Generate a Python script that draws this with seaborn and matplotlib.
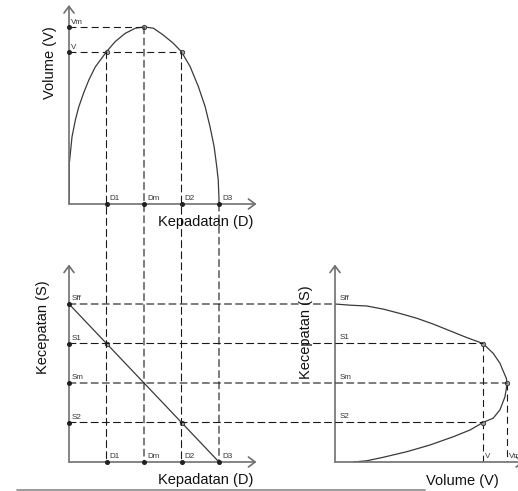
import matplotlib
matplotlib.use("Agg")
import matplotlib.pyplot as plt
from matplotlib.patches import ConnectionPatch
from matplotlib.lines import Line2D
import pandas as pd
import seaborn as sns

sns.set_style("white")
plt.rcParams["font.family"] = ["Liberation Sans", "DejaVu Sans"]
plt.rcParams["lines.scale_dashes"] = False

# ---- tick values and labels ----
density_ticks = [1, 2, 3, 4]
density_labels = ["D1", "Dm", "D2", "D3"]
volume_ticks = [86, 100]
volume_labels = ["V", "Vm"]
speed_ticks = [4, 3, 2, 1]
speed_labels = ["Sff", "S1", "Sm", "S2"]

# volume reached at each density tick (D1, Dm, D2, D3)
volume_at_density = [86, 100, 86, 0]
# volume reached at each speed tick (Sff, S1, Sm, S2)
volume_at_speed = [0, 86, 100, 86]

# ---- volume vs density curve ----
vd_density = [0, 0.01, 0.01, 0.08, 0.17, 0.26, 0.39, 0.53, 0.70, 1.0, 1.23, 1.50,
              1.77, 2.0, 2.25, 2.51, 2.78, 3.0, 3.23, 3.45, 3.63, 3.76, 3.87,
              3.94, 3.98, 4.0, 4.0]
vd_volume = [0, 6.2, 23.2, 37.9, 47.5, 54.8, 62.7, 70.1, 77.4, 86, 91.7, 96.4,
             99.3, 100, 99.3, 95.5, 90.8, 86, 77.6, 66.3, 55.0, 43.7, 32.4,
             21.1, 13.6, 2.3, 0]

# ---- speed vs density line ----
sd_density = [0, 4]
sd_speed = [4, 0]

# ---- speed vs volume curve ----
sv_volume = [0, 8.7, 18.4, 28.1, 37.8, 47.5, 57.2, 66.9, 76.6, 86, 92.0, 95.9,
             98.3, 99.6, 100, 99.6, 98.8, 95.9, 92.0, 86, 78.5, 68.8, 55.2, 41.7,
             28.1, 18.4, 10.6]
sv_speed = [4, 3.97, 3.95, 3.87, 3.76, 3.64, 3.49, 3.32, 3.15, 3.0, 2.75, 2.5,
            2.25, 2.12, 2.0, 1.85, 1.65, 1.32, 1.11, 1.0, 0.81, 0.64, 0.43, 0.26,
            0.12, 0.03, 0]

W, H = 518, 491
fig = plt.figure(figsize=(W / 100, H / 100), dpi=100)


def box(x0, y0, w, h):
    """Axes rectangle from a pixel origin (lower-left corner) and size."""
    return [x0 / W, 1 - y0 / H, w / W, h / H]


axis_col = "#6f6f6f"
curve_col = "#3a3a3a"
dash_col = "#1a1a1a"
dash = (0, (5.0, 3.0))
dash_lw = 0.8
label_fs = 10.5
tick_fs = 5.8

ax_vd = fig.add_axes(box(69, 204, 187.5, 199))
ax_sd = fig.add_axes(box(69, 462, 187.5, 197.5))
ax_sv = fig.add_axes(box(335, 462, 189.2, 197.5))

ax_vd.set_xlim(0, 5)
ax_vd.set_ylim(0, 112.4)
ax_sd.set_xlim(0, 5)
ax_sd.set_ylim(0, 5)
ax_sv.set_xlim(0, 110)
ax_sv.set_ylim(0, 5)

for ax in (ax_vd, ax_sd, ax_sv):
    ax.axis("off")
    for end in ((1, 0), (0, 1)):
        ax.annotate("", xy=end, xytext=(0, 0), xycoords="axes fraction",
                    arrowprops=dict(arrowstyle="->,head_length=0.4,head_width=0.3",
                                    mutation_scale=12, lw=1.2, color=axis_col,
                                    shrinkA=0, shrinkB=0), zorder=3)

# ---- curves ----
vd = pd.DataFrame({"D": vd_density, "V": vd_volume})
sns.lineplot(data=vd, x="D", y="V", sort=False, estimator=None,
             color=curve_col, lw=0.9, ax=ax_vd)
sd = pd.DataFrame({"D": sd_density, "S": sd_speed})
sns.lineplot(data=sd, x="D", y="S", sort=False, estimator=None,
             color=curve_col, lw=0.9, ax=ax_sd)
sv = pd.DataFrame({"V": sv_volume, "S": sv_speed})
sns.lineplot(data=sv, x="V", y="S", sort=False, estimator=None,
             color=curve_col, lw=0.9, ax=ax_sv)
for ax in (ax_vd, ax_sd, ax_sv):
    ax.set_xlabel("")
    ax.set_ylabel("")

# ---- guide lines ----
for v in volume_ticks:
    reach = max(dd for dd, vv in zip(density_ticks, volume_at_density) if vv == v)
    ax_vd.plot([0, reach], [v, v], ls=dash, lw=dash_lw, color=dash_col)

for d, v in zip(density_ticks, volume_at_density):
    fig.add_artist(ConnectionPatch(xyA=(d, v), coordsA=ax_vd.transData,
                                   xyB=(d, 0), coordsB=ax_sd.transData,
                                   linestyle=dash, lw=dash_lw, color=dash_col))

for s, v in zip(speed_ticks, volume_at_speed):
    fig.add_artist(ConnectionPatch(xyA=(0, s), coordsA=ax_sd.transData,
                                   xyB=(v, s), coordsB=ax_sv.transData,
                                   linestyle=dash, lw=dash_lw, color=dash_col))

for s, v in zip(speed_ticks, volume_at_speed):
    if v in volume_ticks and s != 1:
        ax_sv.plot([v, v], [s, 0], ls=dash, lw=dash_lw, color=dash_col)

# ---- marked points ----
pt_kw = dict(s=10, color="#a0a0a0", edgecolor="#333333", linewidth=0.6,
             zorder=4, clip_on=False)
sns.scatterplot(x=density_ticks[:3], y=volume_at_density[:3], ax=ax_vd, **pt_kw)
sns.scatterplot(x=[density_ticks[0], density_ticks[2]],
                y=[speed_ticks[1], speed_ticks[3]], ax=ax_sd, **pt_kw)
sns.scatterplot(x=volume_at_speed[1:], y=speed_ticks[1:], ax=ax_sv, **pt_kw)

# ---- tick dots and labels ----
dot_kw = dict(marker="o", ms=2.6, color="#222222", ls="none", clip_on=False,
              zorder=5)
txt_kw = dict(fontsize=tick_fs, color="#333333", textcoords="offset points",
              ha="left", va="bottom")

for ax in (ax_vd, ax_sd):
    ax.plot(density_ticks, [0] * len(density_ticks), **dot_kw)
    for d, lab in zip(density_ticks, density_labels):
        ax.annotate(lab, xy=(d, 0), xytext=(2.2, 1.6), **txt_kw)

ax_vd.plot([0] * len(volume_ticks), volume_ticks, **dot_kw)
for v, lab in zip(volume_ticks, volume_labels):
    ax_vd.annotate(lab, xy=(0, v), xytext=(1.6, 0.6), **txt_kw)

ax_sd.plot([0] * len(speed_ticks), speed_ticks, **dot_kw)
for s, lab in zip(speed_ticks, speed_labels):
    ax_sd.annotate(lab, xy=(0, s), xytext=(1.6, 1.2), **txt_kw)

for s, lab in zip(speed_ticks, speed_labels):
    ax_sv.annotate(lab, xy=(0, s), xytext=(3.6, 1.6), **txt_kw)
for v, lab in zip(volume_ticks, volume_labels):
    ax_sv.annotate(lab, xy=(v, 0), xytext=(1.4, 1.4), **txt_kw)

# ---- axis titles ----
def ftext(x, y, s, rot=0):
    fig.text(x / W, 1 - y / H, s, ha="center", va="center", rotation=rot,
             fontsize=label_fs, color="#111111")

ftext(206, 222, "Kepadatan (D)")
ftext(50, 63, "Volume (V)", rot=90)
ftext(206, 480, "Kepadatan (D)")
ftext(43, 327, "Kecepatan (S)", rot=90)
ftext(306, 332, "Kecepatan (S)", rot=90)
ftext(462, 481, "Volume (V)")

# separator rule along the bottom
fig.add_artist(Line2D([17 / W, 425 / W], [1 - 490 / H] * 2,
                      color="#8a8a8a", lw=1.2))

fig.savefig("out.png", dpi=100)
